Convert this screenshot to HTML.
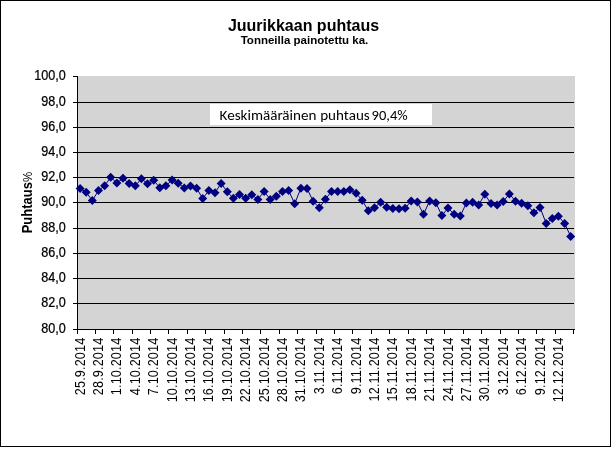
<!DOCTYPE html><html><head><meta charset="utf-8"><style>html,body{margin:0;padding:0;background:#fff;width:612px;height:449px;overflow:hidden}svg{display:block}text{font-family:"Liberation Sans",Arial,sans-serif}.tl{stroke:#000;stroke-width:0.25px}</style></head><body>
<svg width="612" height="449" viewBox="0 0 612 449">
<rect x="0" y="0" width="612" height="449" fill="#fff"/>
<rect x="0.5" y="0.5" width="610" height="446" fill="none" stroke="#000" stroke-width="1"/>
<text x="303.5" y="31" text-anchor="middle" font-size="16" font-weight="bold" fill="#000">Juurikkaan puhtaus</text>
<text x="304.5" y="44" text-anchor="middle" font-size="11.5" font-weight="bold" fill="#000">Tonneilla painotettu ka.</text>
<rect x="78" y="76" width="497" height="253" fill="#d4d4d4"/>
<line x1="78" y1="102.5" x2="574" y2="102.5" stroke="#000" stroke-width="1"/>
<line x1="78" y1="127.5" x2="574" y2="127.5" stroke="#000" stroke-width="1"/>
<line x1="78" y1="152.5" x2="574" y2="152.5" stroke="#000" stroke-width="1"/>
<line x1="78" y1="177.5" x2="574" y2="177.5" stroke="#000" stroke-width="1"/>
<line x1="78" y1="202.5" x2="574" y2="202.5" stroke="#000" stroke-width="1"/>
<line x1="78" y1="228.5" x2="574" y2="228.5" stroke="#000" stroke-width="1"/>
<line x1="78" y1="253.5" x2="574" y2="253.5" stroke="#000" stroke-width="1"/>
<line x1="78" y1="278.5" x2="574" y2="278.5" stroke="#000" stroke-width="1"/>
<line x1="78" y1="303.5" x2="574" y2="303.5" stroke="#000" stroke-width="1"/>
<line x1="73" y1="76.5" x2="77" y2="76.5" stroke="#000" stroke-width="1"/>
<line x1="73" y1="102.5" x2="77" y2="102.5" stroke="#000" stroke-width="1"/>
<line x1="73" y1="127.5" x2="77" y2="127.5" stroke="#000" stroke-width="1"/>
<line x1="73" y1="152.5" x2="77" y2="152.5" stroke="#000" stroke-width="1"/>
<line x1="73" y1="177.5" x2="77" y2="177.5" stroke="#000" stroke-width="1"/>
<line x1="73" y1="202.5" x2="77" y2="202.5" stroke="#000" stroke-width="1"/>
<line x1="73" y1="228.5" x2="77" y2="228.5" stroke="#000" stroke-width="1"/>
<line x1="73" y1="253.5" x2="77" y2="253.5" stroke="#000" stroke-width="1"/>
<line x1="73" y1="278.5" x2="77" y2="278.5" stroke="#000" stroke-width="1"/>
<line x1="73" y1="303.5" x2="77" y2="303.5" stroke="#000" stroke-width="1"/>
<line x1="73" y1="329.5" x2="77" y2="329.5" stroke="#000" stroke-width="1"/>
<line x1="77.5" y1="76" x2="77.5" y2="334" stroke="#000" stroke-width="1"/>
<line x1="73" y1="329.5" x2="575" y2="329.5" stroke="#000" stroke-width="1"/>
<line x1="77.5" y1="330" x2="77.5" y2="334" stroke="#000" stroke-width="1"/>
<line x1="95.5" y1="330" x2="95.5" y2="334" stroke="#000" stroke-width="1"/>
<line x1="113.5" y1="330" x2="113.5" y2="334" stroke="#000" stroke-width="1"/>
<line x1="132.5" y1="330" x2="132.5" y2="334" stroke="#000" stroke-width="1"/>
<line x1="150.5" y1="330" x2="150.5" y2="334" stroke="#000" stroke-width="1"/>
<line x1="168.5" y1="330" x2="168.5" y2="334" stroke="#000" stroke-width="1"/>
<line x1="187.5" y1="330" x2="187.5" y2="334" stroke="#000" stroke-width="1"/>
<line x1="205.5" y1="330" x2="205.5" y2="334" stroke="#000" stroke-width="1"/>
<line x1="224.5" y1="330" x2="224.5" y2="334" stroke="#000" stroke-width="1"/>
<line x1="242.5" y1="330" x2="242.5" y2="334" stroke="#000" stroke-width="1"/>
<line x1="260.5" y1="330" x2="260.5" y2="334" stroke="#000" stroke-width="1"/>
<line x1="279.5" y1="330" x2="279.5" y2="334" stroke="#000" stroke-width="1"/>
<line x1="297.5" y1="330" x2="297.5" y2="334" stroke="#000" stroke-width="1"/>
<line x1="316.5" y1="330" x2="316.5" y2="334" stroke="#000" stroke-width="1"/>
<line x1="334.5" y1="330" x2="334.5" y2="334" stroke="#000" stroke-width="1"/>
<line x1="352.5" y1="330" x2="352.5" y2="334" stroke="#000" stroke-width="1"/>
<line x1="371.5" y1="330" x2="371.5" y2="334" stroke="#000" stroke-width="1"/>
<line x1="389.5" y1="330" x2="389.5" y2="334" stroke="#000" stroke-width="1"/>
<line x1="408.5" y1="330" x2="408.5" y2="334" stroke="#000" stroke-width="1"/>
<line x1="426.5" y1="330" x2="426.5" y2="334" stroke="#000" stroke-width="1"/>
<line x1="444.5" y1="330" x2="444.5" y2="334" stroke="#000" stroke-width="1"/>
<line x1="463.5" y1="330" x2="463.5" y2="334" stroke="#000" stroke-width="1"/>
<line x1="481.5" y1="330" x2="481.5" y2="334" stroke="#000" stroke-width="1"/>
<line x1="500.5" y1="330" x2="500.5" y2="334" stroke="#000" stroke-width="1"/>
<line x1="518.5" y1="330" x2="518.5" y2="334" stroke="#000" stroke-width="1"/>
<line x1="536.5" y1="330" x2="536.5" y2="334" stroke="#000" stroke-width="1"/>
<line x1="555.5" y1="330" x2="555.5" y2="334" stroke="#000" stroke-width="1"/>
<line x1="573.5" y1="330" x2="573.5" y2="334" stroke="#000" stroke-width="1"/>
<text transform="translate(65.8,80) scale(0.9,1)" text-anchor="end" font-size="14" letter-spacing="0" fill="#000" class="tl">100,0</text>
<text transform="translate(65.8,106) scale(0.9,1)" text-anchor="end" font-size="14" letter-spacing="0" fill="#000" class="tl">98,0</text>
<text transform="translate(65.8,131) scale(0.9,1)" text-anchor="end" font-size="14" letter-spacing="0" fill="#000" class="tl">96,0</text>
<text transform="translate(65.8,156) scale(0.9,1)" text-anchor="end" font-size="14" letter-spacing="0" fill="#000" class="tl">94,0</text>
<text transform="translate(65.8,181) scale(0.9,1)" text-anchor="end" font-size="14" letter-spacing="0" fill="#000" class="tl">92,0</text>
<text transform="translate(65.8,206) scale(0.9,1)" text-anchor="end" font-size="14" letter-spacing="0" fill="#000" class="tl">90,0</text>
<text transform="translate(65.8,232) scale(0.9,1)" text-anchor="end" font-size="14" letter-spacing="0" fill="#000" class="tl">88,0</text>
<text transform="translate(65.8,257) scale(0.9,1)" text-anchor="end" font-size="14" letter-spacing="0" fill="#000" class="tl">86,0</text>
<text transform="translate(65.8,282) scale(0.9,1)" text-anchor="end" font-size="14" letter-spacing="0" fill="#000" class="tl">84,0</text>
<text transform="translate(65.8,307) scale(0.9,1)" text-anchor="end" font-size="14" letter-spacing="0" fill="#000" class="tl">82,0</text>
<text transform="translate(65.8,333) scale(0.9,1)" text-anchor="end" font-size="14" letter-spacing="0" fill="#000" class="tl">80,0</text>
<text transform="translate(84.6,337.6) rotate(-90) scale(0.9,1)" text-anchor="end" font-size="14" letter-spacing="0.2" fill="#000">25.9.2014</text>
<text transform="translate(103.0,337.6) rotate(-90) scale(0.9,1)" text-anchor="end" font-size="14" letter-spacing="0.2" fill="#000">28.9.2014</text>
<text transform="translate(121.4,337.6) rotate(-90) scale(0.9,1)" text-anchor="end" font-size="14" letter-spacing="0.2" fill="#000">1.10.2014</text>
<text transform="translate(139.8,337.6) rotate(-90) scale(0.9,1)" text-anchor="end" font-size="14" letter-spacing="0.2" fill="#000">4.10.2014</text>
<text transform="translate(158.2,337.6) rotate(-90) scale(0.9,1)" text-anchor="end" font-size="14" letter-spacing="0.2" fill="#000">7.10.2014</text>
<text transform="translate(176.6,337.6) rotate(-90) scale(0.9,1)" text-anchor="end" font-size="14" letter-spacing="0.2" fill="#000">10.10.2014</text>
<text transform="translate(195.0,337.6) rotate(-90) scale(0.9,1)" text-anchor="end" font-size="14" letter-spacing="0.2" fill="#000">13.10.2014</text>
<text transform="translate(213.4,337.6) rotate(-90) scale(0.9,1)" text-anchor="end" font-size="14" letter-spacing="0.2" fill="#000">16.10.2014</text>
<text transform="translate(231.8,337.6) rotate(-90) scale(0.9,1)" text-anchor="end" font-size="14" letter-spacing="0.2" fill="#000">19.10.2014</text>
<text transform="translate(250.2,337.6) rotate(-90) scale(0.9,1)" text-anchor="end" font-size="14" letter-spacing="0.2" fill="#000">22.10.2014</text>
<text transform="translate(268.6,337.6) rotate(-90) scale(0.9,1)" text-anchor="end" font-size="14" letter-spacing="0.2" fill="#000">25.10.2014</text>
<text transform="translate(287.0,337.6) rotate(-90) scale(0.9,1)" text-anchor="end" font-size="14" letter-spacing="0.2" fill="#000">28.10.2014</text>
<text transform="translate(305.4,337.6) rotate(-90) scale(0.9,1)" text-anchor="end" font-size="14" letter-spacing="0.2" fill="#000">31.10.2014</text>
<text transform="translate(323.8,337.6) rotate(-90) scale(0.9,1)" text-anchor="end" font-size="14" letter-spacing="0.2" fill="#000">3.11.2014</text>
<text transform="translate(342.2,337.6) rotate(-90) scale(0.9,1)" text-anchor="end" font-size="14" letter-spacing="0.2" fill="#000">6.11.2014</text>
<text transform="translate(360.6,337.6) rotate(-90) scale(0.9,1)" text-anchor="end" font-size="14" letter-spacing="0.2" fill="#000">9.11.2014</text>
<text transform="translate(379.0,337.6) rotate(-90) scale(0.9,1)" text-anchor="end" font-size="14" letter-spacing="0.2" fill="#000">12.11.2014</text>
<text transform="translate(397.3,337.6) rotate(-90) scale(0.9,1)" text-anchor="end" font-size="14" letter-spacing="0.2" fill="#000">15.11.2014</text>
<text transform="translate(415.7,337.6) rotate(-90) scale(0.9,1)" text-anchor="end" font-size="14" letter-spacing="0.2" fill="#000">18.11.2014</text>
<text transform="translate(434.1,337.6) rotate(-90) scale(0.9,1)" text-anchor="end" font-size="14" letter-spacing="0.2" fill="#000">21.11.2014</text>
<text transform="translate(452.5,337.6) rotate(-90) scale(0.9,1)" text-anchor="end" font-size="14" letter-spacing="0.2" fill="#000">24.11.2014</text>
<text transform="translate(470.9,337.6) rotate(-90) scale(0.9,1)" text-anchor="end" font-size="14" letter-spacing="0.2" fill="#000">27.11.2014</text>
<text transform="translate(489.3,337.6) rotate(-90) scale(0.9,1)" text-anchor="end" font-size="14" letter-spacing="0.2" fill="#000">30.11.2014</text>
<text transform="translate(507.7,337.6) rotate(-90) scale(0.9,1)" text-anchor="end" font-size="14" letter-spacing="0.2" fill="#000">3.12.2014</text>
<text transform="translate(526.1,337.6) rotate(-90) scale(0.9,1)" text-anchor="end" font-size="14" letter-spacing="0.2" fill="#000">6.12.2014</text>
<text transform="translate(544.5,337.6) rotate(-90) scale(0.9,1)" text-anchor="end" font-size="14" letter-spacing="0.2" fill="#000">9.12.2014</text>
<text transform="translate(562.9,337.6) rotate(-90) scale(0.9,1)" text-anchor="end" font-size="14" letter-spacing="0.2" fill="#000">12.12.2014</text>
<text transform="translate(31.5,202.6) rotate(-90) scale(1,1.1)" text-anchor="middle" font-size="13" font-weight="bold" fill="#000">Puhtaus<tspan font-weight="normal" font-size="11.5">%</tspan></text>
<rect x="210" y="104" width="222" height="21" fill="#fff"/>
<text y="119.5" font-size="15.1" fill="#000" style="font-family:Carlito,'Liberation Sans',sans-serif"><tspan x="219.6" textLength="96.8" lengthAdjust="spacingAndGlyphs">Keskimääräinen</tspan><tspan x="320.2" textLength="49.6" lengthAdjust="spacingAndGlyphs">puhtaus</tspan><tspan x="371.6" textLength="36" lengthAdjust="spacingAndGlyphs">90,4%</tspan></text>
<polyline points="80.1,188.4 86.2,192.3 92.3,200.6 98.5,190.5 104.6,185.8 110.7,177.3 116.9,183.0 123.0,178.3 129.1,183.6 135.3,185.7 141.4,178.8 147.5,183.7 153.7,180.3 159.8,187.7 165.9,185.7 172.1,180.1 178.2,183.3 184.3,188.0 190.5,186.0 196.6,188.3 202.7,198.5 208.9,190.5 215.0,192.7 221.1,183.4 227.3,191.8 233.4,198.3 239.5,194.5 245.7,198.3 251.8,194.7 257.9,199.4 264.1,191.4 270.2,199.4 276.3,196.3 282.5,191.4 288.6,190.4 294.7,203.7 300.9,188.2 307.0,188.4 313.1,201.3 319.3,207.8 325.4,199.3 331.5,191.4 337.7,191.6 343.8,191.6 349.9,189.8 356.1,193.3 362.2,200.3 368.3,210.7 374.5,207.8 380.6,202.3 386.7,207.2 392.8,208.6 399.0,208.7 405.1,208.3 411.2,200.9 417.4,202.1 423.5,214.3 429.6,201.0 435.8,202.7 441.9,215.6 448.0,208.1 454.2,214.3 460.3,216.1 466.4,202.9 472.6,202.3 478.7,204.9 484.8,194.3 491.0,203.6 497.1,204.9 503.2,201.5 509.4,193.9 515.5,201.2 521.6,203.3 527.8,205.7 533.9,212.7 540.0,207.5 546.2,223.4 552.3,218.4 558.4,216.2 564.6,223.4 570.7,236.4" fill="none" stroke="#000080" stroke-width="1"/>
<polygon points="80.1,183.9 84.6,188.4 80.1,192.9 75.6,188.4" fill="#000080"/>
<polygon points="86.2,187.8 90.7,192.3 86.2,196.8 81.7,192.3" fill="#000080"/>
<polygon points="92.3,196.1 96.8,200.6 92.3,205.1 87.8,200.6" fill="#000080"/>
<polygon points="98.5,186.0 103.0,190.5 98.5,195.0 94.0,190.5" fill="#000080"/>
<polygon points="104.6,181.3 109.1,185.8 104.6,190.3 100.1,185.8" fill="#000080"/>
<polygon points="110.7,172.8 115.2,177.3 110.7,181.8 106.2,177.3" fill="#000080"/>
<polygon points="116.9,178.5 121.4,183.0 116.9,187.5 112.4,183.0" fill="#000080"/>
<polygon points="123.0,173.8 127.5,178.3 123.0,182.8 118.5,178.3" fill="#000080"/>
<polygon points="129.1,179.1 133.6,183.6 129.1,188.1 124.6,183.6" fill="#000080"/>
<polygon points="135.3,181.2 139.8,185.7 135.3,190.2 130.8,185.7" fill="#000080"/>
<polygon points="141.4,174.3 145.9,178.8 141.4,183.3 136.9,178.8" fill="#000080"/>
<polygon points="147.5,179.2 152.0,183.7 147.5,188.2 143.0,183.7" fill="#000080"/>
<polygon points="153.7,175.8 158.2,180.3 153.7,184.8 149.2,180.3" fill="#000080"/>
<polygon points="159.8,183.2 164.3,187.7 159.8,192.2 155.3,187.7" fill="#000080"/>
<polygon points="165.9,181.2 170.4,185.7 165.9,190.2 161.4,185.7" fill="#000080"/>
<polygon points="172.1,175.6 176.6,180.1 172.1,184.6 167.6,180.1" fill="#000080"/>
<polygon points="178.2,178.8 182.7,183.3 178.2,187.8 173.7,183.3" fill="#000080"/>
<polygon points="184.3,183.5 188.8,188.0 184.3,192.5 179.8,188.0" fill="#000080"/>
<polygon points="190.5,181.5 195.0,186.0 190.5,190.5 186.0,186.0" fill="#000080"/>
<polygon points="196.6,183.8 201.1,188.3 196.6,192.8 192.1,188.3" fill="#000080"/>
<polygon points="202.7,194.0 207.2,198.5 202.7,203.0 198.2,198.5" fill="#000080"/>
<polygon points="208.9,186.0 213.4,190.5 208.9,195.0 204.4,190.5" fill="#000080"/>
<polygon points="215.0,188.2 219.5,192.7 215.0,197.2 210.5,192.7" fill="#000080"/>
<polygon points="221.1,178.9 225.6,183.4 221.1,187.9 216.6,183.4" fill="#000080"/>
<polygon points="227.3,187.3 231.8,191.8 227.3,196.3 222.8,191.8" fill="#000080"/>
<polygon points="233.4,193.8 237.9,198.3 233.4,202.8 228.9,198.3" fill="#000080"/>
<polygon points="239.5,190.0 244.0,194.5 239.5,199.0 235.0,194.5" fill="#000080"/>
<polygon points="245.7,193.8 250.2,198.3 245.7,202.8 241.2,198.3" fill="#000080"/>
<polygon points="251.8,190.2 256.3,194.7 251.8,199.2 247.3,194.7" fill="#000080"/>
<polygon points="257.9,194.9 262.4,199.4 257.9,203.9 253.4,199.4" fill="#000080"/>
<polygon points="264.1,186.9 268.6,191.4 264.1,195.9 259.6,191.4" fill="#000080"/>
<polygon points="270.2,194.9 274.7,199.4 270.2,203.9 265.7,199.4" fill="#000080"/>
<polygon points="276.3,191.8 280.8,196.3 276.3,200.8 271.8,196.3" fill="#000080"/>
<polygon points="282.5,186.9 287.0,191.4 282.5,195.9 278.0,191.4" fill="#000080"/>
<polygon points="288.6,185.9 293.1,190.4 288.6,194.9 284.1,190.4" fill="#000080"/>
<polygon points="294.7,199.2 299.2,203.7 294.7,208.2 290.2,203.7" fill="#000080"/>
<polygon points="300.9,183.7 305.4,188.2 300.9,192.7 296.4,188.2" fill="#000080"/>
<polygon points="307.0,183.9 311.5,188.4 307.0,192.9 302.5,188.4" fill="#000080"/>
<polygon points="313.1,196.8 317.6,201.3 313.1,205.8 308.6,201.3" fill="#000080"/>
<polygon points="319.3,203.3 323.8,207.8 319.3,212.3 314.8,207.8" fill="#000080"/>
<polygon points="325.4,194.8 329.9,199.3 325.4,203.8 320.9,199.3" fill="#000080"/>
<polygon points="331.5,186.9 336.0,191.4 331.5,195.9 327.0,191.4" fill="#000080"/>
<polygon points="337.7,187.1 342.2,191.6 337.7,196.1 333.2,191.6" fill="#000080"/>
<polygon points="343.8,187.1 348.3,191.6 343.8,196.1 339.3,191.6" fill="#000080"/>
<polygon points="349.9,185.3 354.4,189.8 349.9,194.3 345.4,189.8" fill="#000080"/>
<polygon points="356.1,188.8 360.6,193.3 356.1,197.8 351.6,193.3" fill="#000080"/>
<polygon points="362.2,195.8 366.7,200.3 362.2,204.8 357.7,200.3" fill="#000080"/>
<polygon points="368.3,206.2 372.8,210.7 368.3,215.2 363.8,210.7" fill="#000080"/>
<polygon points="374.5,203.3 379.0,207.8 374.5,212.3 370.0,207.8" fill="#000080"/>
<polygon points="380.6,197.8 385.1,202.3 380.6,206.8 376.1,202.3" fill="#000080"/>
<polygon points="386.7,202.7 391.2,207.2 386.7,211.7 382.2,207.2" fill="#000080"/>
<polygon points="392.8,204.1 397.3,208.6 392.8,213.1 388.3,208.6" fill="#000080"/>
<polygon points="399.0,204.2 403.5,208.7 399.0,213.2 394.5,208.7" fill="#000080"/>
<polygon points="405.1,203.8 409.6,208.3 405.1,212.8 400.6,208.3" fill="#000080"/>
<polygon points="411.2,196.4 415.7,200.9 411.2,205.4 406.7,200.9" fill="#000080"/>
<polygon points="417.4,197.6 421.9,202.1 417.4,206.6 412.9,202.1" fill="#000080"/>
<polygon points="423.5,209.8 428.0,214.3 423.5,218.8 419.0,214.3" fill="#000080"/>
<polygon points="429.6,196.5 434.1,201.0 429.6,205.5 425.1,201.0" fill="#000080"/>
<polygon points="435.8,198.2 440.3,202.7 435.8,207.2 431.3,202.7" fill="#000080"/>
<polygon points="441.9,211.1 446.4,215.6 441.9,220.1 437.4,215.6" fill="#000080"/>
<polygon points="448.0,203.6 452.5,208.1 448.0,212.6 443.5,208.1" fill="#000080"/>
<polygon points="454.2,209.8 458.7,214.3 454.2,218.8 449.7,214.3" fill="#000080"/>
<polygon points="460.3,211.6 464.8,216.1 460.3,220.6 455.8,216.1" fill="#000080"/>
<polygon points="466.4,198.4 470.9,202.9 466.4,207.4 461.9,202.9" fill="#000080"/>
<polygon points="472.6,197.8 477.1,202.3 472.6,206.8 468.1,202.3" fill="#000080"/>
<polygon points="478.7,200.4 483.2,204.9 478.7,209.4 474.2,204.9" fill="#000080"/>
<polygon points="484.8,189.8 489.3,194.3 484.8,198.8 480.3,194.3" fill="#000080"/>
<polygon points="491.0,199.1 495.5,203.6 491.0,208.1 486.5,203.6" fill="#000080"/>
<polygon points="497.1,200.4 501.6,204.9 497.1,209.4 492.6,204.9" fill="#000080"/>
<polygon points="503.2,197.0 507.7,201.5 503.2,206.0 498.7,201.5" fill="#000080"/>
<polygon points="509.4,189.4 513.9,193.9 509.4,198.4 504.9,193.9" fill="#000080"/>
<polygon points="515.5,196.7 520.0,201.2 515.5,205.7 511.0,201.2" fill="#000080"/>
<polygon points="521.6,198.8 526.1,203.3 521.6,207.8 517.1,203.3" fill="#000080"/>
<polygon points="527.8,201.2 532.3,205.7 527.8,210.2 523.3,205.7" fill="#000080"/>
<polygon points="533.9,208.2 538.4,212.7 533.9,217.2 529.4,212.7" fill="#000080"/>
<polygon points="540.0,203.0 544.5,207.5 540.0,212.0 535.5,207.5" fill="#000080"/>
<polygon points="546.2,218.9 550.7,223.4 546.2,227.9 541.7,223.4" fill="#000080"/>
<polygon points="552.3,213.9 556.8,218.4 552.3,222.9 547.8,218.4" fill="#000080"/>
<polygon points="558.4,211.7 562.9,216.2 558.4,220.7 553.9,216.2" fill="#000080"/>
<polygon points="564.6,218.9 569.1,223.4 564.6,227.9 560.1,223.4" fill="#000080"/>
<polygon points="570.7,231.9 575.2,236.4 570.7,240.9 566.2,236.4" fill="#000080"/>
</svg></body></html>
